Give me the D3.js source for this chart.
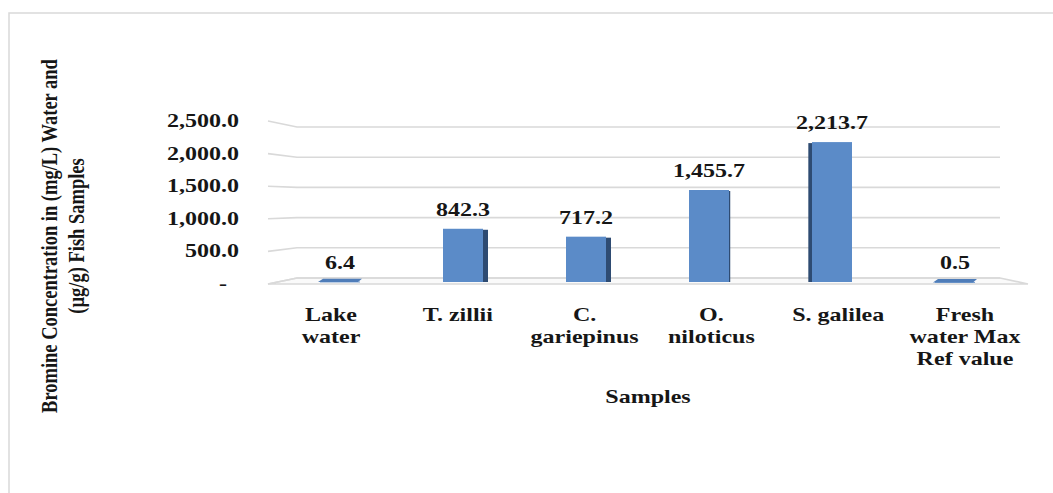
<!DOCTYPE html>
<html>
<head>
<meta charset="utf-8">
<script src="https://cdn.jsdelivr.net/npm/d3@7"></script>
<style>
  html, body { margin: 0; padding: 0; background: #fff; }
  svg { display: block; }
  text { font-family: "Liberation Serif", "Times New Roman", serif; font-weight: bold; fill: #161616; }
</style>
</head>
<body>
<svg id="chart" width="1053" height="493"></svg>
<script>
// Bromine concentration per sample
const categories = ["Lake water", "T. zillii", "C. gariepinus", "O. niloticus", "S. galilea", "Fresh water Max Ref value"];
const categoryLines = [["Lake", "water"], ["T. zillii"], ["C.", "gariepinus"], ["O.", "niloticus"], ["S. galilea"], ["Fresh", "water Max", "Ref value"]];
const values = [6.4, 842.3, 717.2, 1455.7, 2213.7, 0.5];
const tickValues = [0, 500, 1000, 1500, 2000, 2500];
const yTitleLines = ["Bromine Concentration in (mg/L) Water and", "(µg/g) Fish Samples"];
const xTitle = "Samples";

const svg = d3.select("#chart");
const SX = 1.3;            // horizontal text stretch
const FS = 18.5;           // font size

// 3D-ish plot geometry: front edge of the floor/left wall, back wall, bar plane
const frontL = 268, backL = 297, backR = 1000, frontR = 1028;
const yBack  = d3.scaleLinear().domain([0, 2500]).range([278, 127]);
const yFront = d3.scaleLinear().domain([0, 2500]).range([284, 121]);
const yBar   = d3.scaleLinear().domain([0, 2500]).range([282, 124]);
const xBar   = d3.scalePoint().domain(categories).range([340, 955]);
const xLab   = d3.scalePoint().domain(categories).range([331, 965]);
const barW = 40;

// chart area border
svg.append("rect").attr("x", 9).attr("y", 13).attr("width", 1060).attr("height", 500)
  .attr("fill", "none").attr("stroke", "#d9d9d9").attr("stroke-width", 1.5);

// floor
svg.append("path")
  .attr("d", `M${frontL},${yFront(0)} L${backL},${yBack(0)} L${backR},${yBack(0)} L${frontR},${yFront(0)} Z`)
  .attr("fill", "#fafafa").attr("stroke", "#d9d9d9").attr("stroke-width", 1.6);

// gridlines: left wall segment + back wall line
const grid = svg.append("g");
tickValues.forEach(v => {
  grid.append("path")
    .attr("d", `M${frontL},${yFront(v)} L${backL},${yBack(v)} L${backR},${yBack(v)}`)
    .attr("fill", "none").attr("stroke", "#d9d9d9").attr("stroke-width", 1.6);
});

// y tick labels
const fmt = d3.format(",.1f");
svg.append("g").selectAll("text").data(tickValues).join("text")
  .attr("transform", d => `translate(239,${yFront(d) + 6}) scale(${SX},1)`)
  .attr("text-anchor", "end")
  .style("font-size", FS + "px")
  .style("white-space", "pre")
  .text(d => d === 0 ? "-  " : fmt(d));

// bars
const vanish = 740;
const bars = svg.append("g");
categories.forEach((c, i) => {
  const v = values[i];
  const cx = xBar(c);
  const x0 = cx - barW / 2, x1 = cx + barW / 2;
  const top = yBar(v), bot = yBar(0);
  const dir = Math.sign(vanish - cx);
  const sideW = Math.min(5, Math.abs(vanish - cx) * 0.04);
  const topDepth = Math.max(0, (245 - top) * -0.08);
  // side face
  if (bot - top > 1) {
    const sx = dir > 0 ? x1 : x0 - sideW;
    bars.append("rect").attr("x", sx).attr("y", top + 1).attr("width", sideW).attr("height", bot - top - 1)
      .attr("fill", "#2e4b72");
  }
  // front face
  bars.append("rect").attr("x", x0).attr("y", top).attr("width", barW).attr("height", Math.max(0.8, bot - top))
    .attr("fill", "#5b8bc8");
  // top face for short columns (seen from above)
  if (topDepth > 0) {
    bars.append("path")
      .attr("d", `M${x0 - 2},${top + 0.5} L${x1 - 2},${top + 0.5} L${x1 + 2},${top - topDepth} L${x0 + 3},${top - topDepth} Z`)
      .attr("fill", "#4f7db9");
  }
});

// value labels
svg.append("g").selectAll("text").data(values).join("text")
  .attr("transform", (d, i) => `translate(${xBar(categories[i])},${yBar(d) - 13}) scale(${SX},1)`)
  .attr("text-anchor", "middle")
  .style("font-size", FS + "px")
  .text(d => fmt(d));

// category labels
const catG = svg.append("g");
categories.forEach((c, i) => {
  categoryLines[i].forEach((line, j) => {
    catG.append("text")
      .attr("transform", `translate(${xLab(c)},${321 + j * 22}) scale(${SX},1)`)
      .attr("text-anchor", "middle")
      .style("font-size", FS + "px")
      .text(line);
  });
});

// x axis title
svg.append("text")
  .attr("transform", `translate(648,403) scale(${SX},1)`)
  .attr("text-anchor", "middle")
  .style("font-size", FS + "px")
  .text(xTitle);

// y axis title (two rotated lines)
yTitleLines.forEach((line, j) => {
  svg.append("text")
    .attr("transform", `translate(${57 + j * 27},236) scale(${SX},1) rotate(-90)`)
    .attr("text-anchor", "middle")
    .style("font-size", FS + "px")
    .text(line);
});
</script>
</body>
</html>
